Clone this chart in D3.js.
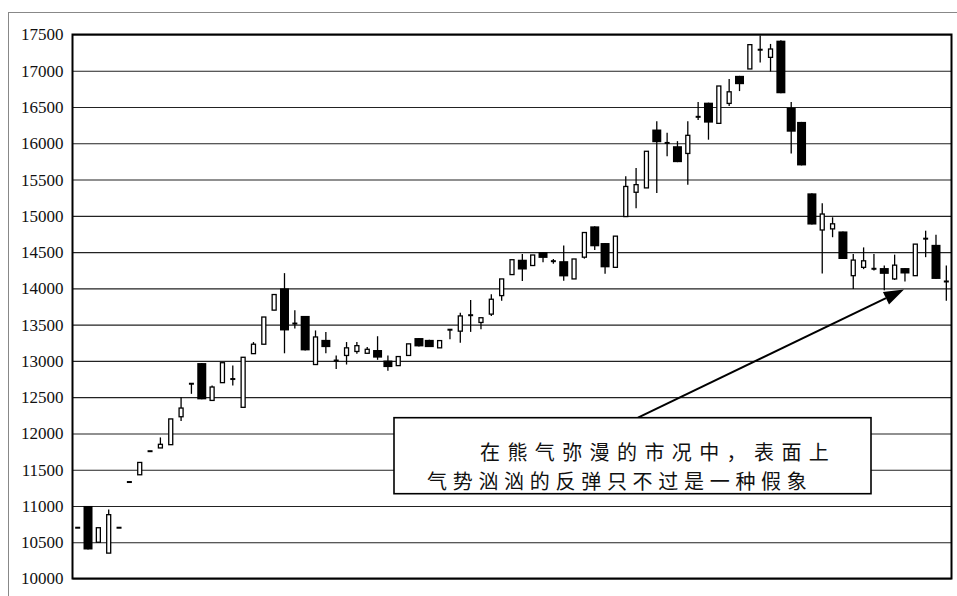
<!DOCTYPE html>
<html><head><meta charset="utf-8">
<script src="https://cdn.jsdelivr.net/npm/d3@7"></script>
<style>body{margin:0;background:#fff}svg{display:block}</style></head>
<body><svg id="c" width="957" height="596"></svg>
<script>
const days = d3.range(1, 86);
const opens = [10700,11000,10500,10350,10700,11330,11430,11755,11800,11845,
12230,12685,12970,12455,12700,12760,12360,13100,13230,13700,
14000,13520,13620,12950,13290,13010,13075,13130,13105,13150,
13005,12935,13075,13315,13290,13180,13430,13410,13635,13530,
13645,13900,14190,14395,14315,14500,14380,14375,14130,14430,
14855,14625,14290,14990,15325,15385,16190,16010,15960,15860,
16370,16560,16275,16550,16930,17025,17295,17185,17415,16490,
16295,15310,14805,14820,14785,14175,14290,14275,14280,14130,
14280,14175,14690,14600,14100];
const closes = [10700,10400,10700,10880,10700,11330,11600,11755,11850,12200,
12350,12685,12470,12640,12975,12740,13050,13230,13605,13915,
13420,13510,13145,13330,13190,13000,13180,13210,13160,13045,
12915,13060,13235,13200,13190,13280,13430,13620,13625,13595,
13850,14130,14395,14260,14460,14420,14370,14165,14405,14770,
14580,14290,14720,15405,15430,15890,16015,16000,15740,16110,
16360,16285,16790,16710,16815,17360,17285,17300,16690,16160,
15695,14880,15025,14890,14405,14390,14380,14265,14200,14320,
14205,14610,14680,14130,14090];
const highs = [10700,11000,10700,10950,10700,11330,11600,11755,11945,12200,
12500,12685,12970,12660,12975,12935,13050,13260,13605,13915,
14210,13700,13620,13420,13400,13075,13260,13260,13190,13340,
13075,13060,13235,13315,13290,13280,13430,13665,13840,13595,
13920,14130,14395,14475,14460,14500,14405,14590,14405,14770,
14855,14625,14720,15545,15660,15890,16305,16145,16030,16305,
16570,16560,16790,16885,16930,17360,17485,17370,17420,16570,
16295,15310,15175,14980,14785,14475,14565,14475,14315,14465,
14280,14610,14795,14740,14315];
const lows = [10700,10400,10500,10350,10700,11330,11430,11755,11800,11845,
12170,12546,12470,12455,12700,12660,12360,13100,13230,13700,
13105,13445,13145,12950,13105,12890,12950,13100,13105,13015,
12865,12935,13075,13200,13190,13180,13300,13250,13400,13435,
13620,13830,14190,14100,14315,14360,14340,14105,14130,14410,
14530,14200,14290,14990,15105,15385,15315,15820,15740,15430,
16320,16050,16275,16515,16720,17025,17115,16990,16690,15860,
15695,14880,14205,14705,14405,13990,14265,14245,13975,14115,
14095,14175,14430,14130,13830];
const yTickValues = [10000,10500,11000,11500,12000,12500,13000,13500,14000,14500,15000,15500,16000,16500,17000,17500];
const noteLines = ["在熊气弥漫的市况中，表面上", "气势汹汹的反弹只不过是一种假象"];

const svg = d3.select("#c");
const L = 72.5, R = 951.5, T = 34.5, B = 578.5;
const x = d3.scaleBand().domain(days).range([L, R]).padding(0);
const y = d3.scaleLinear().domain([10000, 17500]).range([B, T]);

// outer frame
svg.append("rect").attr("x", 8.5).attr("y", 12.5).attr("width", 980).attr("height", 620)
  .attr("fill", "none").attr("stroke", "#888").attr("stroke-width", 1);

// axis with gridlines
const ax = svg.append("g").attr("transform", `translate(${L},0)`)
  .call(d3.axisLeft(y).tickValues(yTickValues).tickFormat(d3.format("d"))
    .tickSizeInner(-(R - L)).tickSizeOuter(0).tickPadding(9));
ax.select(".domain").remove();
ax.selectAll(".tick line").attr("stroke", "#222").attr("stroke-width", 1.1);
ax.selectAll(".tick text").attr("fill", "#111")
  .style("font-family", "'Liberation Serif','DejaVu Serif',serif").style("font-size", "17px");

// candles
const g = svg.append("g");
days.forEach((d, i) => {
  const cx = x(d) + x.bandwidth() / 2;
  const o = opens[i], c = closes[i], h = highs[i], l = lows[i];
  if (h > l) {
    g.append("line").attr("x1", cx).attr("x2", cx).attr("y1", y(h)).attr("y2", y(l))
      .attr("stroke", "#000").attr("stroke-width", 1.3);
  }
  if (c - o > 20) {
    g.append("rect").attr("x", cx - 2).attr("width", 4)
      .attr("y", y(c)).attr("height", y(o) - y(c))
      .attr("fill", "#fff").attr("stroke", "#000").attr("stroke-width", 1.3);
  } else if (o - c > 20) {
    g.append("rect").attr("x", cx - 4.5).attr("width", 9)
      .attr("y", y(o)).attr("height", y(c) - y(o)).attr("fill", "#000");
  } else {
    const m = y((o + c) / 2);
    g.append("rect").attr("x", cx - 2.5).attr("width", 5)
      .attr("y", m - 1).attr("height", 2).attr("fill", "#000");
  }
});

// plot border
svg.append("rect").attr("x", L).attr("y", T).attr("width", R - L).attr("height", B - T)
  .attr("fill", "none").attr("stroke", "#000").attr("stroke-width", 2);

// annotation arrow
const x0 = 638, y0 = 417.7, x1 = 904, y1 = 289.5;
const ang = Math.atan2(y1 - y0, x1 - x0);
const hl = 20, hw = 7;
const bx = x1 - hl * Math.cos(ang), by = y1 - hl * Math.sin(ang);
svg.append("line").attr("x1", x0).attr("y1", y0).attr("x2", bx).attr("y2", by)
  .attr("stroke", "#000").attr("stroke-width", 2);
svg.append("path").attr("d", d3.line()([
  [x1, y1],
  [bx + hw * Math.sin(ang), by - hw * Math.cos(ang)],
  [bx - hw * Math.sin(ang), by + hw * Math.cos(ang)]
]) + "Z").attr("fill", "#000");

// annotation box
svg.append("rect").attr("x", 394).attr("y", 417.7).attr("width", 477).attr("height", 76)
  .attr("fill", "#fff").attr("stroke", "#000").attr("stroke-width", 1.6);
const tf = "'Noto Sans CJK SC','Noto Sans CJK JP',sans-serif";
svg.append("text").attr("x", 480).attr("y", 460).text(noteLines[0])
  .style("font-family", tf).style("font-size", "20px").style("letter-spacing", "7.4px").attr("fill", "#111");
svg.append("text").attr("x", 427).attr("y", 489).text(noteLines[1])
  .style("font-family", tf).style("font-size", "20px").style("letter-spacing", "5.7px").attr("fill", "#111");
</script></body></html>
